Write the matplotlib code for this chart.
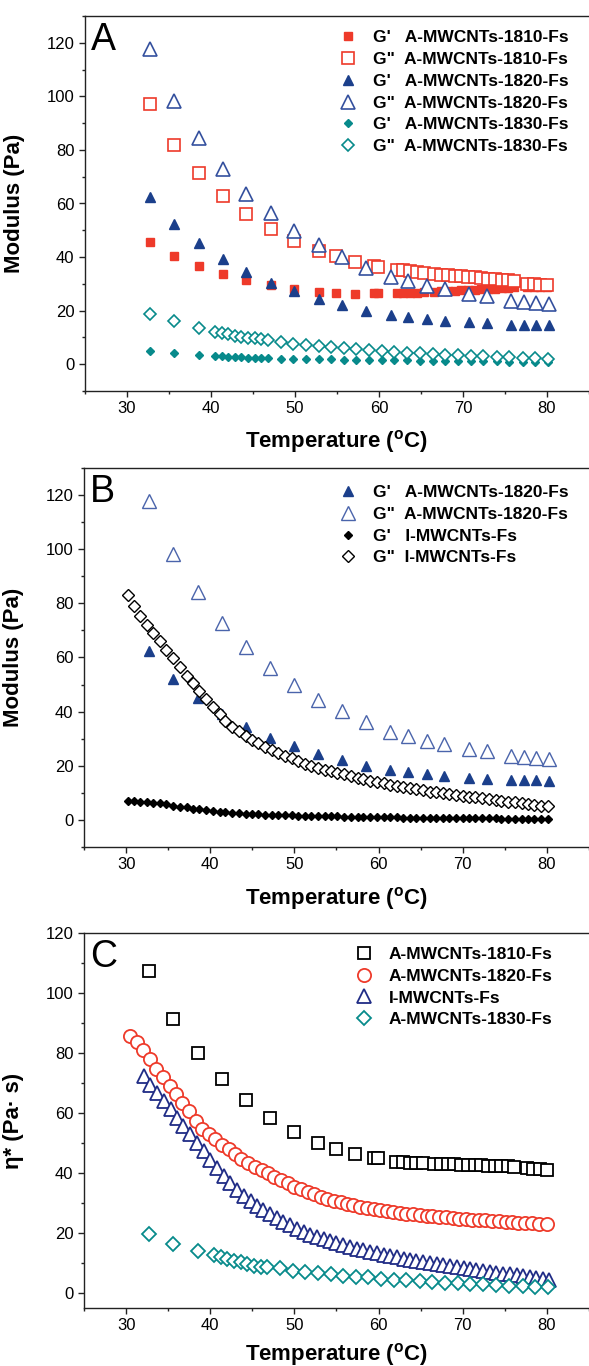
import matplotlib
matplotlib.use("Agg")
import matplotlib.pyplot as plt
from matplotlib.ticker import MultipleLocator

plt.rcParams["font.family"] = ["Liberation Sans", "DejaVu Sans"]
plt.rcParams["mathtext.default"] = "regular"

# ---- panel A / B: A-MWCNTs series ----
T_1810 = [32.7, 35.6, 38.6, 41.4, 44.2, 47.1, 49.9, 52.8, 54.9, 57.2, 59.4, 59.9,
          62.1, 62.9, 63.7, 64.5, 65.3, 66.6, 67.4, 68.2, 69.0, 69.8, 70.6, 71.4,
          72.2, 73.0, 73.8, 74.6, 75.4, 76.1, 77.6, 78.4, 79.2, 80.0]
g1_1810 = [45.6, 40.3, 36.7, 33.7, 31.4, 29.5, 27.9, 26.8, 26.4, 26.3, 26.4, 26.5,
           26.4, 26.5, 26.6, 26.7, 26.8, 27.1, 27.2, 27.3, 27.5, 27.6, 27.7, 27.8,
           28.0, 28.1, 28.2, 28.4, 28.5, 28.7, 28.8, 28.9, 29.0, 29.0]
g2_1810 = [97.3, 82.0, 71.2, 62.9, 56.1, 50.4, 46.0, 42.3, 40.3, 38.2, 36.6, 36.3,
           35.3, 35.0, 34.8, 34.5, 34.2, 33.6, 33.4, 33.2, 33.0, 32.8, 32.6, 32.4,
           32.1, 31.9, 31.7, 31.5, 31.3, 31.1, 30.1, 29.9, 29.7, 29.6]

T_1820 = [32.7, 35.6, 38.6, 41.4, 44.2, 47.1, 49.9, 52.8, 55.6, 58.5, 61.4, 63.5,
          65.7, 67.8, 70.7, 72.9, 75.7, 77.3, 78.7, 80.2]
g1_1820 = [62.5, 52.2, 45.1, 39.2, 34.5, 30.4, 27.4, 24.3, 22.0, 19.9, 18.5, 17.7,
           16.8, 16.2, 15.6, 15.3, 14.8, 14.7, 14.6, 14.5]
g2_1820 = [117.8, 98.2, 84.3, 72.7, 63.7, 56.3, 49.7, 44.4, 40.1, 36.1, 32.6, 31.0,
           29.2, 27.9, 26.1, 25.4, 23.5, 23.3, 22.8, 22.4]

T_1830 = [32.7, 35.6, 38.6, 40.5, 41.3, 42.0, 42.8, 43.6, 44.4, 45.2, 46.0, 46.8,
          48.3, 49.8, 51.3, 52.8, 54.3, 55.8, 57.3, 58.8, 60.3, 61.8, 63.3, 64.9,
          66.4, 67.9, 69.4, 70.9, 72.4, 74.0, 75.5, 77.1, 78.6, 80.1]
g1_1830 = [5.0, 4.0, 3.4, 3.0, 2.9, 2.8, 2.7, 2.6, 2.5, 2.4, 2.3, 2.2,
           2.1, 2.0, 1.9, 1.85, 1.8, 1.7, 1.65, 1.6, 1.5, 1.45, 1.4, 1.35,
           1.3, 1.25, 1.2, 1.15, 1.1, 1.05, 1.0, 0.95, 0.9, 0.9]
g2_1830 = [18.9, 16.1, 13.6, 12.1, 11.6, 11.1, 10.7, 10.3, 9.9, 9.6, 9.3, 9.0,
           8.2, 7.7, 7.1, 6.7, 6.3, 5.9, 5.5, 5.2, 4.9, 4.6, 4.3, 4.0,
           3.8, 3.6, 3.4, 3.2, 3.0, 2.8, 2.6, 2.4, 2.2, 2.0]

# ---- panel B: I-MWCNTs ----
T_I = [30.2, 30.9, 31.7, 32.5, 33.2, 34.0, 34.8, 35.6, 36.4, 37.2, 37.9, 38.7, 39.5,
       40.3, 41.1, 41.8, 42.6, 43.4, 44.2, 45.0, 45.7, 46.5, 47.3, 48.1, 48.9, 49.7,
       50.4, 51.2, 52.0, 52.8, 53.6, 54.3, 55.1, 55.9, 56.7, 57.5, 58.2, 59.0, 59.8,
       60.6, 61.4, 62.2, 62.9, 63.7, 64.5, 65.3, 66.1, 66.8, 67.6, 68.4, 69.2, 70.0,
       70.7, 71.5, 72.3, 73.1, 73.9, 74.6, 75.4, 76.2, 77.0, 77.8, 78.5, 79.3, 80.1]
g1_I = [7.0, 6.9, 6.8, 6.6, 6.4, 6.1, 5.7, 5.3, 4.9, 4.6, 4.2, 3.9, 3.6,
        3.3, 3.1, 2.9, 2.7, 2.5, 2.3, 2.2, 2.1, 2.0, 1.95, 1.85, 1.75, 1.7,
        1.6, 1.55, 1.5, 1.45, 1.4, 1.35, 1.3, 1.25, 1.2, 1.15, 1.1, 1.05, 1.0,
        0.97, 0.94, 0.91, 0.88, 0.85, 0.82, 0.79, 0.76, 0.73, 0.7, 0.68, 0.66, 0.64,
        0.62, 0.6, 0.58, 0.56, 0.54, 0.52, 0.5, 0.48, 0.46, 0.44, 0.42, 0.4, 0.38]
g2_I = [83.0, 79.0, 75.3, 72.0, 69.0, 66.0, 62.9, 59.8, 56.5, 53.3, 50.5, 47.6, 44.6,
        41.7, 39.0, 36.5, 34.4, 32.7, 31.0, 29.5, 28.3, 27.0, 25.8, 24.6, 23.6, 22.7,
        21.6, 20.8, 20.0, 19.3, 18.6, 18.0, 17.4, 16.8, 16.2, 15.6, 15.0, 14.5, 14.0,
        13.5, 13.0, 12.6, 12.2, 11.8, 11.3, 10.9, 10.5, 10.2, 9.8, 9.5, 9.2, 8.9,
        8.6, 8.3, 8.0, 7.7, 7.4, 7.1, 6.8, 6.5, 6.2, 5.9, 5.6, 5.3, 5.0]

# ---- panel C: complex viscosity ----
eta_1810 = [107.4, 91.3, 80.0, 71.4, 64.2, 58.4, 53.8, 50.1, 48.1, 46.4, 45.0, 44.9,
            43.7, 43.6, 43.5, 43.4, 43.3, 43.1, 43.0, 42.9, 42.9, 42.8, 42.7, 42.6,
            42.6, 42.5, 42.4, 42.3, 42.2, 42.1, 41.6, 41.4, 41.2, 41.0]

T_C1820 = [30.5, 31.3, 32.0, 32.8, 33.6, 34.4, 35.2, 35.9, 36.7, 37.5,
           38.3, 39.0, 39.8, 40.6, 41.4, 42.2, 42.9, 43.7, 44.5, 45.3,
           46.1, 46.9, 47.6, 48.4, 49.2, 50.0, 50.8, 51.6, 52.3, 53.1,
           53.9, 54.7, 55.5, 56.3, 57.0, 57.8, 58.6, 59.4, 60.2, 61.0,
           61.7, 62.5, 63.3, 64.1, 64.9, 65.7, 66.4, 67.2, 68.0, 68.8,
           69.6, 70.4, 71.1, 71.9, 72.7, 73.5, 74.3, 75.1, 75.8, 76.6,
           77.4, 78.2, 79.0, 80.0]
eta_1820 = [85.8, 83.6, 80.9, 78.0, 74.7, 71.9, 69.1, 66.5, 63.4, 60.6,
            57.5, 54.8, 52.9, 51.2, 49.5, 47.9, 46.2, 44.8, 43.4, 42.1,
            41.0, 39.9, 38.8, 37.7, 36.6, 35.5, 34.6, 33.7, 32.9, 32.1,
            31.4, 30.8, 30.2, 29.7, 29.2, 28.8, 28.4, 28.0, 27.7, 27.4,
            27.1, 26.8, 26.5, 26.3, 26.0, 25.8, 25.6, 25.4, 25.2, 25.0,
            24.8, 24.6, 24.5, 24.3, 24.2, 24.0, 23.9, 23.7, 23.6, 23.4,
            23.3, 23.2, 23.1, 23.0]

T_CI = [32.1, 32.9, 33.7, 34.5, 35.3, 36.1, 36.8, 37.6, 38.4, 39.2,
        40.0, 40.8, 41.6, 42.4, 43.2, 44.0, 44.8, 45.6, 46.3, 47.1,
        47.9, 48.7, 49.5, 50.3, 51.1, 51.9, 52.7, 53.5, 54.2, 55.0,
        55.8, 56.6, 57.4, 58.2, 59.0, 59.8, 60.6, 61.4, 62.2, 63.0,
        63.7, 64.5, 65.3, 66.1, 66.9, 67.7, 68.5, 69.3, 70.1, 70.9,
        71.6, 72.4, 73.2, 74.0, 74.8, 75.6, 76.4, 77.2, 78.0, 78.7,
        79.5, 80.3]
eta_I = [72.5, 69.5, 66.7, 63.9, 61.2, 58.4, 55.6, 52.9, 50.1, 47.3,
         44.5, 41.8, 39.0, 36.6, 34.3, 32.3, 30.7, 29.0, 27.6, 26.3,
         24.9, 23.7, 22.6, 21.5, 20.5, 19.5, 18.6, 17.9, 17.2, 16.6,
         16.0, 15.4, 14.8, 14.2, 13.7, 13.2, 12.7, 12.3, 11.9, 11.5,
         11.1, 10.7, 10.3, 9.9, 9.6, 9.2, 8.9, 8.6, 8.3, 8.0,
         7.7, 7.4, 7.1, 6.8, 6.5, 6.2, 5.9, 5.6, 5.3, 5.0,
         4.7, 4.4]

eta_1830 = [19.6, 16.4, 14.0, 12.6, 11.9, 11.3, 10.8, 10.2, 9.6, 9.1, 8.8, 8.6,
            8.2, 7.5, 7.0, 6.6, 6.2, 5.8, 5.5, 5.2, 4.8, 4.5, 4.2, 4.0,
            3.7, 3.5, 3.3, 3.1, 2.9, 2.7, 2.5, 2.3, 2.1, 1.9]

RED = "#ee3a2a"
NAVY = "#1b3f8b"
NAVY_OPEN = "#34509e"
TEAL = "#078a8b"
NAVY_C = "#202c86"

fig = plt.figure(figsize=(5.89, 13.66), dpi=100)
W, H = 589.0, 1366.0


def make_axes(left, top, bottom):
    return fig.add_axes([left / W, 1 - bottom / H, 1 - left / W, (bottom - top) / H])


def style_axes(ax, ylabel, letter, ylim, xlabel_y=-0.1):
    ax.set_xlim(25, 85)
    ax.set_ylim(*ylim)
    ax.xaxis.set_major_locator(MultipleLocator(10))
    ax.xaxis.set_minor_locator(MultipleLocator(5))
    ax.yaxis.set_major_locator(MultipleLocator(20))
    ax.yaxis.set_minor_locator(MultipleLocator(10))
    ax.tick_params(which="both", direction="out", top=False, right=False,
                   width=1.0, labelsize=12, color="#222222")
    ax.tick_params(which="major", length=4)
    ax.tick_params(which="minor", length=2.5)
    ax.spines["right"].set_visible(False)
    for s in ("left", "bottom", "top"):
        ax.spines[s].set_linewidth(1.0)
        ax.spines[s].set_color("#222222")
    ax.set_xlabel("Temperature ($\\mathregular{^o}$C)", fontsize=16,
                  fontweight="bold")
    ax.xaxis.set_label_coords(0.5, xlabel_y)
    ax.set_ylabel(ylabel, fontsize=16, fontweight="bold")
    ax.yaxis.set_label_coords(-0.119, 0.5)
    ax.text(0.012, 0.985, letter, transform=ax.transAxes, fontsize=27,
            va="top", ha="left")


def add_legend(ax, x, y):
    ax.legend(loc="upper left", bbox_to_anchor=(x, y), frameon=False,
              prop={"weight": "bold", "size": 12.5}, handlelength=1.0,
              handletextpad=0.95, labelspacing=0.38, borderaxespad=0,
              borderpad=0)


# ---------------- A ----------------
axA = make_axes(85, 16, 391)
axA.plot(T_1810, g1_1810, "s", ls="none", color=RED, ms=5.5,
         label="G'   A-MWCNTs-1810-Fs")
axA.plot(T_1810, g2_1810, "s", ls="none", mec=RED, mfc="white", mew=1.2, ms=8,
         label='G"  A-MWCNTs-1810-Fs')
axA.plot(T_1820, g1_1820, "^", ls="none", color=NAVY, ms=6.5,
         label="G'   A-MWCNTs-1820-Fs")
axA.plot(T_1820, g2_1820, "^", ls="none", mec=NAVY_OPEN, mfc="white", mew=1.2,
         ms=9.5, label='G"  A-MWCNTs-1820-Fs')
axA.plot(T_1830, g1_1830, "D", ls="none", color=TEAL, ms=4.5,
         label="G'   A-MWCNTs-1830-Fs")
axA.plot(T_1830, g2_1830, "D", ls="none", mec=TEAL, mfc="white", mew=1.2, ms=6.2,
         label='G"  A-MWCNTs-1830-Fs')
style_axes(axA, "Modulus (Pa)", "A", (-10, 130))
add_legend(axA, 0.505, 0.962)

# ---------------- B ----------------
axB = make_axes(84, 468, 847)
axB.plot(T_1820, g1_1820, "^", ls="none", color=NAVY, ms=6.5,
         label="G'   A-MWCNTs-1820-Fs")
axB.plot(T_1820, g2_1820, "^", ls="none", mec="#4a64ab", mfc="white", mew=1.0,
         ms=9.5, label='G"  A-MWCNTs-1820-Fs')
axB.plot(T_I, g1_I, "D", ls="none", color="black", ms=4.5,
         label="G'   I-MWCNTs-Fs")
axB.plot(T_I, g2_I, "D", ls="none", mec="black", mfc="white", mew=1.0, ms=6.2,
         label='G"  I-MWCNTs-Fs')
style_axes(axB, "Modulus (Pa)", "B", (-10, 130))
add_legend(axB, 0.505, 0.955)

# ---------------- C ----------------
axC = make_axes(84, 933, 1308)
axC.plot(T_1810, eta_1810, "s", ls="none", mec="black", mfc="white", mew=1.3,
         ms=8.5, label="A-MWCNTs-1810-Fs")
axC.plot(T_C1820, eta_1820, "o", ls="none", mec=RED, mfc="white", mew=1.3,
         ms=9.5, label="A-MWCNTs-1820-Fs")
axC.plot(T_CI, eta_I, "^", ls="none", mec=NAVY_C, mfc="white", mew=1.3,
         ms=10, label="I-MWCNTs-Fs")
axC.plot(T_1830, eta_1830, "D", ls="none", mec=TEAL, mfc="white", mew=1.3,
         ms=6.8, label="A-MWCNTs-1830-Fs")
style_axes(axC, "\u03b7* (Pa\u00b7 s)", "C", (-5, 120), xlabel_y=-0.088)
add_legend(axC, 0.537, 0.963)

fig.savefig("out.png", dpi=100)
